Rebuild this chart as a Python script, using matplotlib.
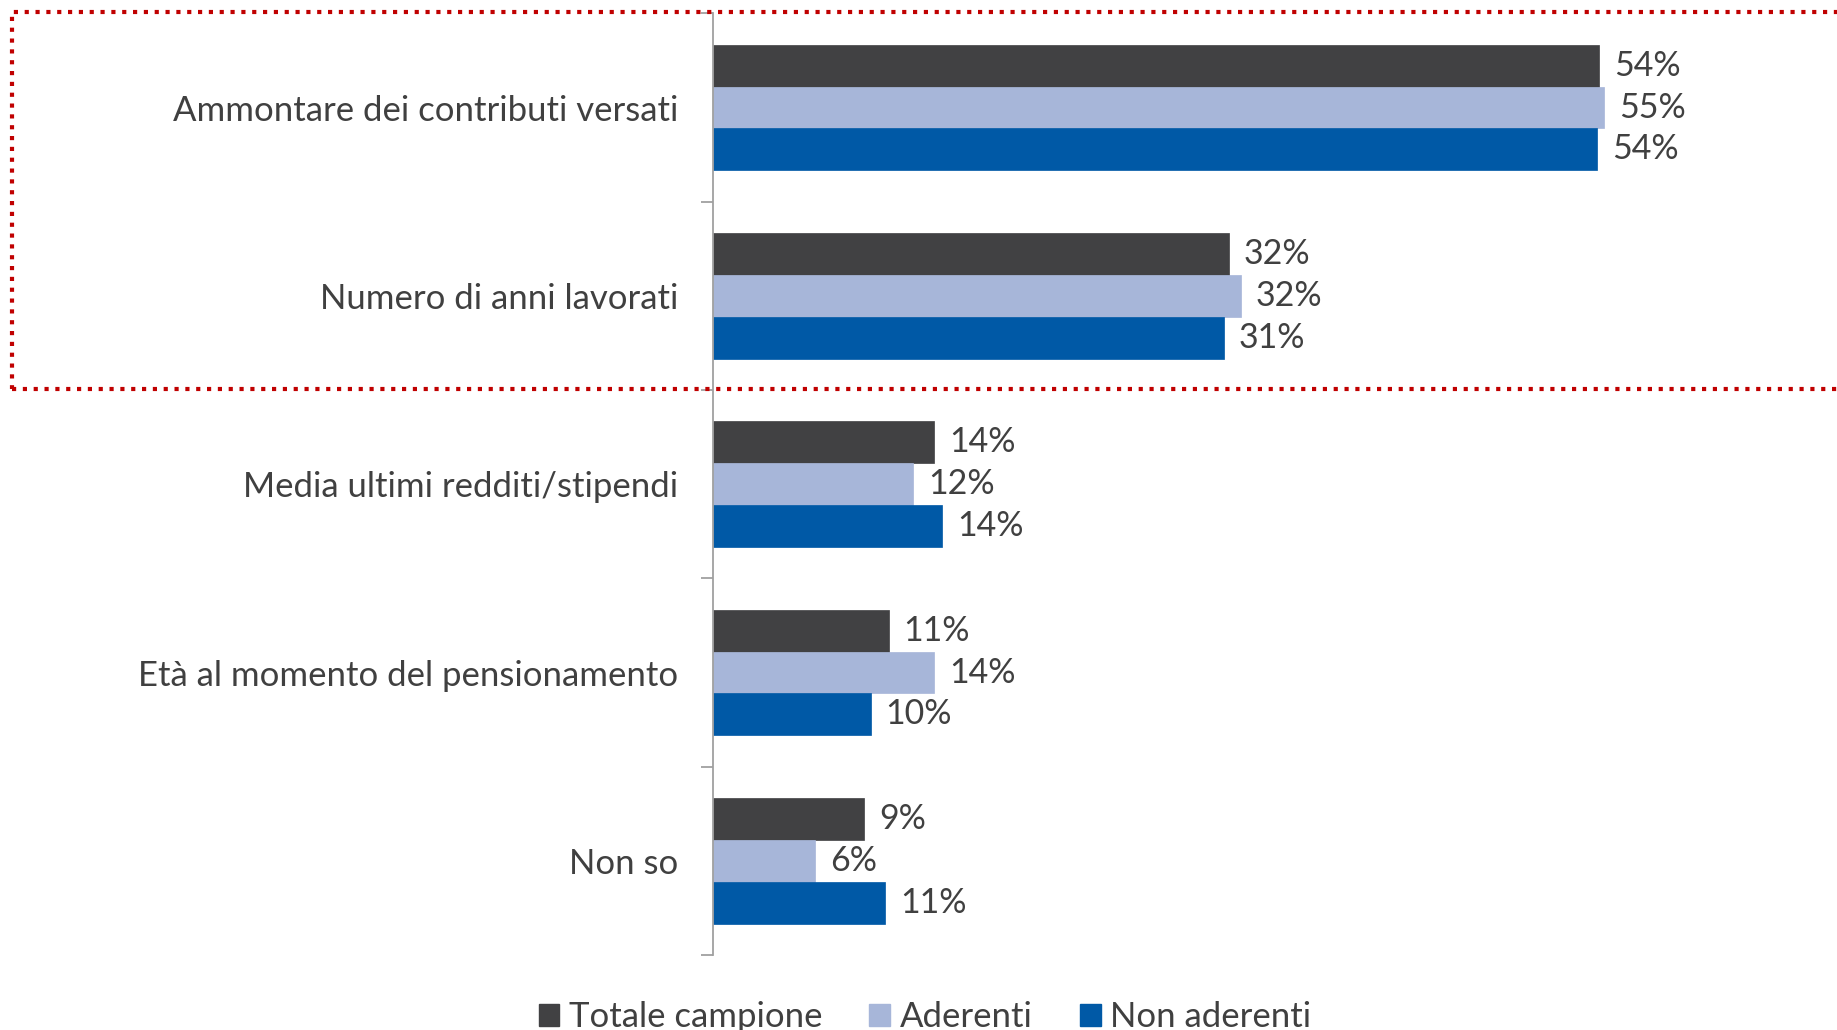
import matplotlib
matplotlib.use("Agg")
import matplotlib.pyplot as plt
from matplotlib.patches import Rectangle, Patch
import numpy as np

categories = ["Ammontare dei contributi versati", "Numero di anni lavorati",
              "Media ultimi redditi/stipendi", "Età al momento del pensionamento", "Non so"]
series_names = ["Totale campione", "Aderenti", "Non aderenti"]
totale = [54.4, 31.7, 13.6, 10.8, 9.3]
aderenti = [54.7, 32.4, 12.3, 13.6, 6.3]
non_aderenti = [54.3, 31.4, 14.1, 9.7, 10.6]
colors = ["#414143", "#a7b6d9", "#0059a6"]

plt.rcParams['font.family'] = ['Lato', 'DejaVu Sans']

fig = plt.figure(figsize=(18.37, 10.30), dpi=100)
ax = fig.add_axes([0.388, 0.0728, 0.612, 0.9142])

n = len(categories)
y = np.arange(n)
h = 0.222
series = [totale, aderenti, non_aderenti]
for i, (vals, col) in enumerate(zip(series, colors)):
    pos = y + (i - 1) * h
    ax.barh(pos, vals, height=h, color=col, edgecolor=col, linewidth=0.5)
    for p, v in zip(pos, vals):
        ax.text(v + 0.9, p, f"{v:.0f}%", va='center', ha='left', fontsize=24.5, color='#404040')

ax.set_xlim(0, 69)
ax.set_ylim(n - 0.5, -0.49)
ax.set_xticks([])
ax.set_yticks(y)
ax.set_yticklabels(categories, fontsize=25, color='#404040')
ax.tick_params(axis='y', which='major', length=0, pad=25)
ax.set_yticks(np.arange(-0.5, n, 1.0), minor=True)
ax.tick_params(axis='y', which='minor', length=9, width=1.3, color='#a0a0a0')
for s in ['top', 'right', 'bottom']:
    ax.spines[s].set_visible(False)
ax.spines['left'].set_color('#a0a0a0')
ax.spines['left'].set_linewidth(1.3)

# dotted highlight box
rect = Rectangle((12 / 1837, 1 - 389 / 1030), 1.0, (389 - 12) / 1030,
                 transform=fig.transFigure, fill=False, edgecolor='#c00000',
                 linewidth=3.0, linestyle=(0, (1, 1.6)), clip_on=False)
fig.add_artist(rect)

handles = [Patch(facecolor=c, edgecolor=c) for c in colors]
fig.legend(handles, series_names, loc='center', bbox_to_anchor=(925 / 1837, 1 - 1017 / 1030),
           ncol=3, frameon=False, fontsize=25, handlelength=0.6, handleheight=0.6,
           handletextpad=0.28, columnspacing=1.35, labelcolor='#404040')

fig.savefig("out.png", dpi=100)
